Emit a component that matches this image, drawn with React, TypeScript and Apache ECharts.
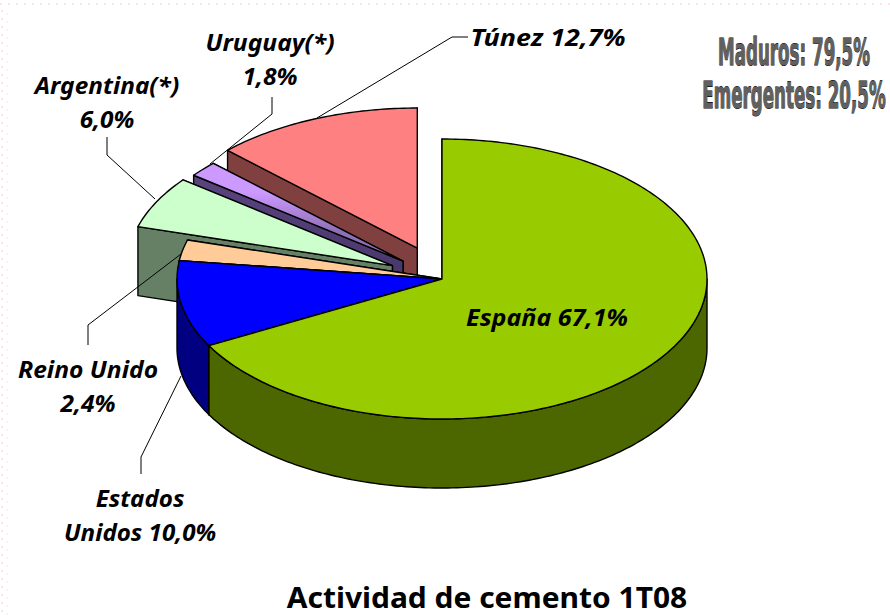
import React, { useEffect, useRef } from "react";
import * as echarts from "echarts";

const categories = ["España", "Estados Unidos", "Reino Unido", "Argentina(*)", "Uruguay(*)", "Túnez"];
const shares = [67.1, 10.0, 2.4, 6.0, 1.8, 12.7];
const explode = [0, 0, 0, 0.21, 0.195, 0.24];
const uruguayTop = new echarts.graphic.LinearGradient(0, 0, 0, 1, [
  { offset: 0, color: "#CC99FF" }, { offset: 0.3, color: "#CC99FF" }, { offset: 0.7, color: "#8F6FB5" }, { offset: 1, color: "#8F6FB5" },
]);
const uruguaySide = new echarts.graphic.LinearGradient(0, 0, 0, 1, [
  { offset: 0, color: "#5A4480" }, { offset: 1, color: "#3E3060" },
]);
const topColors: any[] = ["#99CC00", "#0000FF", "#FFCC99", "#CCFFCC", uruguayTop, "#FF8080"];
const sideColors: any[] = ["#4C6600", "#000080", "#806650", "#668066", uruguaySide, "#804040"];

const CX = 442, CY = 279, RX = 265, RY = 140, DEPTH = 69;
const pt = (deg: number, ox: number, oy: number, d = 0): number[] => {
  const t = (deg * Math.PI) / 180;
  return [CX + ox + RX * Math.sin(t), CY + oy - RY * Math.cos(t) + d];
};
const arc = (a: number, b: number, ox: number, oy: number, d = 0) => {
  const out: number[][] = [];
  const n = Math.max(2, Math.ceil(Math.abs(b - a)));
  for (let i = 0; i <= n; i++) out.push(pt(a + ((b - a) * i) / n, ox, oy, d));
  return out;
};
const starts: number[] = [];
shares.reduce((s, v, i) => { starts[i] = s; return s + (v / 100) * 360; }, 0);

const renderSlice = (params: any, api: any) => {
  const i = api.value(0) as number;
  const a = starts[i];
  const b = a + (api.value(1) / 100) * 360;
  const m = (((a + b) / 2) * Math.PI) / 180;
  const ox = explode[i] * RX * Math.sin(m);
  const oy = -explode[i] * RY * Math.cos(m);
  const tip = [CX + ox, CY + oy];
  const tipD = [tip[0], tip[1] + DEPTH];
  const line = { stroke: "#000", lineWidth: 1.4, lineJoin: "round" };
  const side = { ...line, fill: sideColors[i] };
  const children: any[] = [];
  const face = (deg: number) => ({
    type: "polygon",
    shape: { points: [tip, pt(deg, ox, oy), pt(deg, ox, oy, DEPTH), tipD] },
    style: side,
  });
  children.push(face(b), face(a));
  const wa = Math.max(a, 90), wb = Math.min(b, 270);
  if (wb > wa) {
    children.push({
      type: "polygon",
      shape: { points: [...arc(wa, wb, ox, oy), ...arc(wb, wa, ox, oy, DEPTH)] },
      style: side,
    });
  }
  children.push({
    type: "polygon",
    shape: { points: [tip, ...arc(a, b, ox, oy)] },
    style: { ...line, fill: topColors[i] },
  });
  return { type: "group", children };
};

const labelLines = [
  [[317, 118], [452, 37], [468, 37]],
  [[210, 164], [272, 114], [272, 97]],
  [[155, 199], [107, 155], [107, 137]],
  [[181, 254], [88, 325], [88, 345]],
  [[181, 376], [141, 457], [141, 474]],
];
const labelTexts = [
  { t: "Túnez 12,7%", x: 548, y: 37, s: 1.17 },
  { t: "Uruguay(*)\n1,8%", x: 270, y: 59, s: 1.07 },
  { t: "Argentina(*)\n6,0%", x: 107, y: 102, s: 1.06 },
  { t: "Reino Unido\n2,4%", x: 88, y: 386, s: 1.07 },
  { t: "Estados\nUnidos 10,0%", x: 140, y: 515, s: 1.05 },
  { t: "España 67,1%", x: 547, y: 317, s: 1.09 },
];
const summary = ["Maduros: 79,5%", "Emergentes: 20,5%"];
const title = "Actividad de cemento 1T08";

export default function App() {
  const ref = useRef<HTMLDivElement>(null);
  useEffect(() => {
    document.body.style.margin = "0";
    const chart = echarts.init(ref.current!, undefined, { renderer: "svg" });
    const dots = { stroke: "#FBE3EA", lineWidth: 2, lineDash: [2, 6] };
    chart.setOption({
      animation: false,
      backgroundColor: "#fff",
      series: [{
        type: "custom",
        coordinateSystem: "none",
        renderItem: renderSlice,
        data: categories.map((name, i) => ({ name, value: [i, shares[i]] })).reverse(),
        silent: true,
      }],
      graphic: [
        { type: "line", z: 0, shape: { x1: 0, y1: 4, x2: 890, y2: 4 }, style: dots },
        { type: "line", z: 0, shape: { x1: 2, y1: 10, x2: 2, y2: 616 }, style: dots },
        { type: "line", z: 0, shape: { x1: 7, y1: 13, x2: 7, y2: 616 }, style: { ...dots, stroke: "#FDF0F3" } },
        ...labelLines.map((pts) => ({
          type: "polyline", z: 10, shape: { points: pts }, style: { stroke: "#000", lineWidth: 1, fill: "none" },
        })),
        ...labelTexts.map((l) => ({
          type: "text", z: 11, x: l.x, y: l.y, scaleX: l.s,
          style: { text: l.t, fill: "#000", font: `italic bold 23px "Noto Sans"`, align: "center", verticalAlign: "middle", lineHeight: 34 },
        })),
        ...summary.map((t, i) => ({
          type: "text", z: 11, x: 794, y: [52, 95][i], scaleX: 0.452,
          style: { text: t, fill: "#606060", stroke: "#000", lineWidth: 1.1, font: `bold 37px "DejaVu Sans"`, align: "center", verticalAlign: "middle" },
        })),
        {
          type: "text", z: 11, x: 487, y: 597, scaleX: 1.07,
          style: { text: title, fill: "#000", font: `bold 28px "Noto Sans"`, align: "center", verticalAlign: "middle", lineHeight: 28 },
        },
      ],
    });
    return () => chart.dispose();
  }, []);
  return <div ref={ref} style={{ width: 890, height: 616 }} />;
}
